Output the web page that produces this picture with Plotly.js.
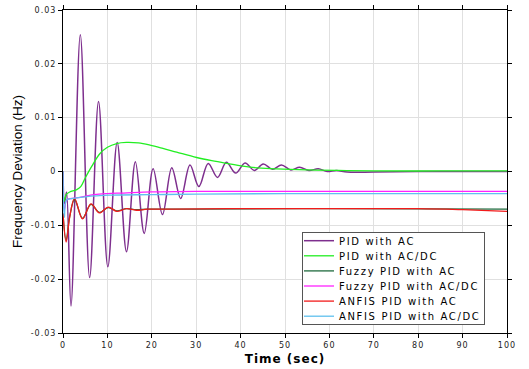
<!DOCTYPE html>
<html>
<head>
<meta charset="utf-8">
<script src="https://cdn.plot.ly/plotly-3.0.1.min.js"></script>
<style>
  html, body { margin: 0; padding: 0; background: #fff; }
  #chart { width: 529px; height: 369px; }
  .legendtext { letter-spacing: 1.65px; }
  .xtick text, .ytick text { letter-spacing: 1px; }
  .g-xtitle text { letter-spacing: 1px; }
</style>
</head>
<body>
<div id="chart"></div>
<script>
// ---- data ----
const seriesNames = ["PID with AC", "PID with AC/DC", "Fuzzy PID with AC", "Fuzzy PID with AC/DC", "ANFIS PID with AC", "ANFIS PID with AC/DC"];

const pidAcX = [0, 0.35, 0.8, 1.8, 3.9, 6.0, 8.0, 10.1, 12.2, 14.3, 16.3, 18.3, 20.3, 22.4, 24.5, 26.5, 28.6, 30.6, 32.7, 34.8, 36.8, 38.9, 41.0, 43.1, 45.1, 47.2, 49.2, 51.3, 53.3, 55.4, 57.5, 59.5, 61.6, 64, 70, 80, 100];
const pidAcY = [0, -0.006, -0.0038, -0.025, 0.0254, -0.0197, 0.0130, -0.0177, 0.0054, -0.0149, 0.0018, -0.0115, 0.0005, -0.0080, 0.0007, -0.0050, 0.0012, -0.0028, 0.0015, -0.0011, 0.0017, -0.0003, 0.0016, 0.0002, 0.0014, 0.0004, 0.0012, 0.0003, 0.0008, 0.0002, 0.0005, 0.0000, 0.0002, -0.0001, -0.0001, 0.0, 0.0];

const pidAcDcX = [0, 0.3, 0.7, 1.5, 3.0, 4.0, 5.0, 6.5, 8.3, 10.0, 12.1, 14.3, 17.0, 19.6, 22.5, 25.6, 30.1, 33.5, 36.9, 42.1, 48.1, 55, 62, 70, 85, 100];
const pidAcDcY = [0, -0.0055, -0.0043, -0.0038, -0.0034, -0.0028, -0.0012, 0.0010, 0.0033, 0.0045, 0.0052, 0.0054, 0.0053, 0.0049, 0.0043, 0.0036, 0.0026, 0.0020, 0.0015, 0.0008, 0.0005, 0.0003, 0.0002, 0.0001, 0.0001, 0.0001];

const fuzzyAcX = [0, 0.7, 1.5, 2.6, 4.4, 6.3, 8.2, 10.2, 12.1, 14.3, 16.5, 19, 30, 60, 100];
const fuzzyAcY = [-0.0078, -0.0128, -0.0084, -0.0052, -0.0087, -0.0061, -0.0076, -0.0067, -0.0073, -0.0069, -0.0071, -0.0070, -0.0070, -0.0069, -0.0070];

const fuzzyAcDcX = [0, 0.3, 0.8, 2, 3.8, 7, 10, 13.6, 20, 30, 50, 100];
const fuzzyAcDcY = [0, -0.0072, -0.0053, -0.0050, -0.0048, -0.0043, -0.0041, -0.0040, -0.0038, -0.0037, -0.0037, -0.0037];

const anfisAcX = [0, 0.7, 1.5, 2.6, 4.4, 6.3, 8.2, 10.2, 12.1, 14.3, 16.5, 19, 25, 40, 60, 80, 90, 100];
const anfisAcY = [-0.0078, -0.0131, -0.0085, -0.0050, -0.0088, -0.0060, -0.0077, -0.0066, -0.0074, -0.0069, -0.0072, -0.0070, -0.0070, -0.0069, -0.0069, -0.0069, -0.0071, -0.0074];

const anfisAcDcX = [0, 0.3, 0.8, 2.3, 5, 10.6, 20, 30, 50, 100];
const anfisAcDcY = [0, -0.0085, -0.0053, -0.0050, -0.0047, -0.0044, -0.0043, -0.0042, -0.0041, -0.0041];

const xTickVals = [0, 10, 20, 30, 40, 50, 60, 70, 80, 90, 100];
const xTickText = ["0", "10", "20", "30", "40", "50", "60", "70", "80", "90", "100"];
const yTickVals = [-0.03, -0.02, -0.01, 0, 0.01, 0.02, 0.03];
const yTickText = ["-0.03", "-0.02", "-0.01", "0", "0.01", "0.02", "0.03"];

const colors = ["#7E2F8E", "#22EE22", "#1F6B3E", "#FF22FF", "#F21B1B", "#5FC0EE"];
const widths = [1.5, 1.3, 1.3, 1.3, 1.3, 1.3];

const xs = [pidAcX, pidAcDcX, fuzzyAcX, fuzzyAcDcX, anfisAcX, anfisAcDcX];
const ys = [pidAcY, pidAcDcY, fuzzyAcY, fuzzyAcDcY, anfisAcY, anfisAcDcY];

const traces = seriesNames.map((n, i) => ({
  type: "scatter", mode: "lines", name: n,
  x: xs[i], y: ys[i],
  line: { color: colors[i], width: widths[i], shape: "spline", smoothing: 1 }
}));

const tickFont = { family: "DejaVu Sans", size: 8, color: "#222" };

const layout = {
  width: 529, height: 369,
  margin: { l: 63, r: 22, t: 10, b: 36, pad: 0 },
  paper_bgcolor: "#fff", plot_bgcolor: "#fff",
  showlegend: true,
  xaxis: {
    range: [0, 100], tickvals: xTickVals, ticktext: xTickText,
    ticks: "outside", ticklen: 4, tickcolor: "#000", tickwidth: 1,
    showline: true, linecolor: "#000", linewidth: 1, mirror: "ticks",
    showgrid: true, gridcolor: "#e0e0e0", gridwidth: 1, zeroline: false,
    tickfont: tickFont,
    title: { text: "Time (sec)", font: { family: "DejaVu Sans", size: 12, weight: "bold", color: "#000" }, standoff: 6 }
  },
  yaxis: {
    range: [-0.03, 0.03], tickvals: yTickVals, ticktext: yTickText,
    ticks: "outside", ticklen: 4, tickcolor: "#000", tickwidth: 1,
    showline: true, linecolor: "#000", linewidth: 1, mirror: "ticks",
    showgrid: true, gridcolor: "#e0e0e0", gridwidth: 1, zeroline: false,
    tickfont: tickFont,
    title: { text: "Frequency Deviation (Hz)", font: { family: "Liberation Sans", size: 13.5, color: "#000" }, standoff: 4 }
  },
  legend: {
    x: 0.538, xanchor: "left", y: 0.027, yanchor: "bottom",
    bgcolor: "#fff", bordercolor: "#555", borderwidth: 1,
    font: { family: "DejaVu Sans", size: 10, color: "#000" },
    itemwidth: 30, tracegroupgap: 0
  }
};

Plotly.newPlot("chart", traces, layout, { staticPlot: true, displayModeBar: false }).then(gd => {
  // compact the legend rows to the reference spacing
  const leg = gd.querySelector(".legend");
  if (!leg) return;
  const items = leg.querySelectorAll(".traces");
  const step = 15.1, first = 8.7, H = 92, W = 182, top = 232, left = 302, dx = -4;
  items.forEach((it, i) => {
    const tr = it.getAttribute("transform") || "";
    const m = tr.match(/translate\(([-\d.]+)[ ,]+([-\d.]+)\)/);
    const tx = m ? parseFloat(m[1]) : 0;
    it.setAttribute("transform", "translate(" + (tx + dx) + "," + (first + i * step) + ")");
  });
  const bg = leg.querySelector("rect.bg");
  if (bg) { bg.setAttribute("height", H); bg.setAttribute("width", W); }
  leg.setAttribute("transform", "translate(" + left + "," + top + ")");
});
</script>
</body>
</html>
